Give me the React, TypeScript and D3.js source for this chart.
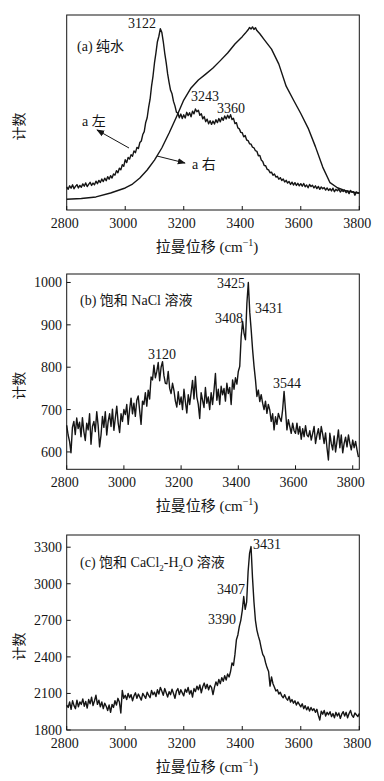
import React from "react";
import * as d3 from "d3";

// ---------- data ----------
const X_TICKS = [2800, 3000, 3200, 3400, 3600, 3800];
const STEP = 5;

// (a) pure water, left (noisy), arbitrary units 0-100, from 2800 step 5
const aLeftStart = 2800;
const aLeft = [
  11.8, 10.6, 12.4, 11.2, 12.9, 10.9, 12.1, 13.0, 11.3, 12.6,
  11.7, 13.4, 12.2, 13.9, 12.0, 13.1, 14.2, 12.6, 13.8, 12.9,
  14.8, 13.5, 15.2, 14.1, 15.9, 14.6, 16.3, 15.0, 17.1, 15.8,
  17.6, 16.4, 18.5, 17.9, 20.2, 19.1, 21.4, 20.6, 23.2, 22.4,
  25.8, 24.3, 26.9, 26.1, 28.4, 27.6, 30.3, 29.4, 32.1, 31.5,
  34.6, 35.4, 38.7, 40.2, 44.9, 47.3, 52.6, 56.8, 63.5, 68.7,
  75.4, 80.6, 86.3, 89.1, 93.0, 91.2, 86.4, 80.5, 75.6, 69.8,
  65.3, 61.4, 59.6, 55.7, 53.4, 50.2, 49.6, 47.3, 49.2, 46.9,
  48.8, 47.2, 50.1, 48.4, 49.9, 47.8, 50.7, 49.3, 51.8, 50.4,
  51.2, 48.6, 49.4, 46.8, 47.9, 45.3, 46.6, 44.2, 45.8, 43.9,
  45.6, 44.1, 46.3, 44.8, 46.9, 45.2, 47.4, 46.0, 48.2, 46.7,
  48.6, 47.1, 48.9, 46.4, 47.0, 44.3, 44.8, 42.1, 41.6, 39.8,
  39.6, 37.5, 38.2, 35.9, 35.6, 34.0, 33.8, 32.2, 31.9, 30.4,
  30.1, 27.8, 28.0, 25.6, 24.9, 22.8, 22.7, 20.9, 20.6, 19.1,
  19.4, 17.8, 18.5, 16.9, 17.3, 15.8, 16.6, 15.1, 15.9, 14.4,
  15.2, 13.8, 14.6, 13.1, 14.3, 12.8, 14.0, 12.6, 13.7, 12.4,
  13.5, 12.2, 13.6, 11.9, 12.8, 11.4, 13.1, 12.0, 12.7, 11.3,
  12.4, 11.0, 12.1, 10.6, 11.8, 10.9, 11.5, 10.2, 11.3, 10.0,
  10.9, 9.8, 11.2, 9.4, 10.6, 9.9, 10.8, 9.2, 10.1, 9.5,
  10.2, 8.9, 9.7, 8.4, 10.0, 9.1, 9.4, 7.6, 9.3, 8.7,
  8.9,
];

// (a) pure water, right (smooth)
const aRightX = [
  2800, 2850, 2900, 2950, 3000, 3025, 3050, 3075, 3100, 3125, 3150, 3175,
  3200, 3225, 3250, 3275, 3300, 3325, 3350, 3375, 3400, 3410, 3420, 3425,
  3430, 3435, 3440, 3445, 3450, 3460, 3475, 3500, 3525, 3550, 3575, 3600,
  3625, 3650, 3675, 3700, 3725, 3750, 3775, 3800,
];
const aRightY = [
  5.5, 5.9, 6.7, 8.7, 11.3, 13.3, 16.4, 20.5, 25.6, 31.8, 39.5, 47.7,
  56.4, 62.6, 66.7, 69.7, 72.8, 76.6, 80.5, 85.1, 88.9, 90.6, 92.4, 93.6,
  92.8, 93.9, 92.6, 93.5, 92.0, 90.4, 87.4, 82.5, 74.8, 63.5, 56.4, 49.5,
  42.0, 32.5, 22.0, 14.0, 11.4, 10.0, 9.3, 8.6,
];

// (b) saturated NaCl solution, counts from 2800 step 5
const bStart = 2800;
const bCounts = [
  663, 640, 625, 598, 658, 672, 641, 680, 655, 670,
  636, 681, 648, 627, 668, 652, 690, 618, 660, 672,
  648, 695, 662, 612, 640, 684, 658, 695, 640, 672,
  690, 660, 701, 651, 680, 708, 668, 646, 690, 672,
  700, 688, 712, 665, 700, 727, 690, 715, 684, 722,
  732, 698, 665, 720, 712, 740, 708, 746, 725, 777,
  770, 805, 775, 790, 811, 768, 800, 813, 780, 762,
  761, 790, 750, 738, 762, 745, 720, 706, 742, 712,
  730, 700, 748, 718, 692, 735, 712, 740, 769, 725,
  778, 730, 712, 679, 740, 722, 705, 752, 715, 730,
  700, 740, 712, 745, 785, 722, 748, 712, 755, 735,
  750, 720, 762, 738, 752, 712, 770, 748, 775, 760,
  790, 802, 872, 908, 880, 865, 951, 1000, 930, 888,
  841, 802, 770, 731, 746, 719, 735, 715, 700, 720,
  691, 712, 699, 672, 690, 652, 683, 665, 691, 680,
  672, 700, 743, 699, 652, 676, 660, 644, 668, 650,
  644, 668, 642, 660, 630, 655, 636, 662, 640, 636,
  650, 628, 644, 660, 620, 640, 655, 630, 660, 642,
  620, 645, 610, 581, 644, 620, 605, 638, 600, 625,
  652, 610, 640, 598, 620, 635, 612, 640, 620, 605,
  628, 610, 625, 605, 588,
];
const bYTicks = [600, 700, 800, 900, 1000];

// (c) saturated CaCl2-H2O solution, counts from 2800 step 5
const cStart = 2800;
const cCounts = [
  2005, 1985, 2030, 1970, 2040, 2000, 1975, 2045, 1990, 2030,
  2010, 2055, 1995, 2035, 1980, 2050, 2015, 2070, 2000, 2040,
  2085, 2010, 2045, 1990, 2030, 1975, 2020, 1995, 1960, 2005,
  1945, 2010, 1985, 2040, 2005, 2060, 2030, 1940, 2125, 2060,
  2085, 2050, 2100, 2065, 2090, 2040, 2080, 2105, 2060, 2095,
  2070, 2045, 2100, 2080, 2060, 2110, 2085, 2065, 2125, 2090,
  2110, 2075, 2130, 2095, 2150, 2120, 2085, 2140, 2105, 2070,
  2115, 2090, 2135, 2100, 2060, 2120, 2140, 2090, 2130, 2105,
  2080, 2135, 2110, 2150, 2095, 2125, 2070, 2140, 2115, 2160,
  2130, 2170, 2105, 2155, 2185, 2140, 2175, 2130, 2165, 2150,
  2090, 2150, 2195, 2165, 2215, 2180, 2230, 2200, 2245, 2210,
  2260, 2235, 2280, 2350, 2330, 2420, 2540, 2580, 2650, 2700,
  2780, 2895, 2790, 2850, 3100, 3250, 3305, 3050, 2850, 2700,
  2620, 2570, 2530, 2470, 2420, 2400, 2350, 2310, 2280, 2160,
  2235, 2180, 2150, 2120, 2130, 2095, 2110, 2080, 2065, 2090,
  2060, 2045, 2075, 2030, 2050, 2020, 2040, 2005, 2030, 2010,
  1990, 2015, 1975, 2000, 1965, 1990, 1955, 1985, 1960, 1975,
  1945, 1970, 1920, 1882, 1955, 1930, 1960, 1915, 1945, 1925,
  1950, 1910, 1935, 1900, 1945, 1915, 1940, 1895, 1930, 1950,
  1915, 1945, 1900, 1935, 1960, 1920, 1905, 1940, 1925, 1910,
  1935,
];
const cYTicks = [1800, 2100, 2400, 2700, 3000, 3300];

// ---------- layout ----------
const W = 384;
const H = 781;
const LEFT = 66.7;
const RIGHT = 359.3;
const FONT = "'Liberation Serif', 'Times New Roman', 'Noto Sans CJK SC', serif";
const INK = "#151515";

type Pt = [number, number];

const toPts = (start: number, vals: number[]): Pt[] =>
  vals.map((v, i) => [start + i * STEP, v] as Pt);

interface PanelProps {
  top: number;
  bottom: number;
  xDomain: [number, number];
  yDomain: [number, number];
  yTicks?: number[];
  series: Pt[][];
  children?: (x: d3.ScaleLinear<number, number>, y: d3.ScaleLinear<number, number>) => React.ReactNode;
}

function Panel({ top, bottom, xDomain, yDomain, yTicks, series, children }: PanelProps) {
  const x = d3.scaleLinear().domain(xDomain).range([LEFT, RIGHT]);
  const y = d3.scaleLinear().domain(yDomain).range([bottom, top]);
  const line = d3
    .line<Pt>()
    .x((d) => x(d[0]))
    .y((d) => y(d[1]));
  const midX = 207;
  const midY = (top + bottom) / 2 + 14;
  return (
    <g>
      {series.map((s, i) => (
        <path key={i} d={line(s) || ""} fill="none" stroke={INK} strokeWidth={1.4} strokeLinejoin="round" />
      ))}
      <rect x={LEFT} y={top} width={RIGHT - LEFT} height={bottom - top} fill="none" stroke={INK} strokeWidth={1} />
      {X_TICKS.map((t) => (
        <g key={t}>
          <line x1={x(t)} x2={x(t)} y1={bottom} y2={bottom - 4} stroke={INK} strokeWidth={1} />
          <text x={x(t) - 2} y={bottom + 18} textAnchor="middle" fontSize={14} fontFamily={FONT} fill={INK}>
            {t}
          </text>
        </g>
      ))}
      {(yTicks || []).map((t) => (
        <g key={t}>
          <line x1={LEFT} x2={LEFT + 4} y1={y(t)} y2={y(t)} stroke={INK} strokeWidth={1} />
          <text x={62} y={y(t) + 5} textAnchor="end" fontSize={14} fontFamily={FONT} fill={INK}>
            {t}
          </text>
        </g>
      ))}
      <text x={midX} y={bottom + 42} textAnchor="middle" fontSize={15} fontFamily={FONT} fill={INK}>
        拉曼位移 (cm
        <tspan fontSize={10} dy={-6}>−1</tspan>
        <tspan dy={6}>)</tspan>
      </text>
      <text
        transform={`translate(24, ${midY}) rotate(-90)`}
        textAnchor="middle"
        fontSize={14}
        fontFamily={FONT}
        fill={INK}
      >
        计数
      </text>
      {children ? children(x, y) : null}
    </g>
  );
}

const Label = ({ x, y, children }: { x: number; y: number; children: React.ReactNode }) => (
  <text x={x} y={y} fontSize={14} fontFamily={FONT} fill={INK}>
    {children}
  </text>
);

export default function App() {
  const aL = toPts(aLeftStart, aLeft);
  const aR: Pt[] = aRightX.map((v, i) => [v, aRightY[i]] as Pt);
  const b = toPts(bStart, bCounts);
  const c = toPts(cStart, cCounts);

  return (
    <svg
      width={W}
      height={H}
      viewBox={`0 0 ${W} ${H}`}
      style={{ position: "absolute", left: 0, top: 0, background: "#fff" }}
    >
      <defs>
        <marker id="arr" viewBox="0 0 10 10" refX={9} refY={5} markerWidth={8} markerHeight={8} orient="auto">
          <path d="M0,1 L10,5 L0,9 Z" fill={INK} />
        </marker>
      </defs>
      <rect x={0} y={0} width={W} height={H} fill="#fff" />

      <Panel top={15} bottom={210} xDomain={[2800, 3800]} yDomain={[0, 100]} series={[aR, aL]}>
        {() => (
          <g>
            <Label x={77} y={51}>(a) 纯水</Label>
            <Label x={128} y={28}>3122</Label>
            <Label x={191} y={101}>3243</Label>
            <Label x={217} y={113}>3360</Label>
            <Label x={82} y={126}>a 左</Label>
            <Label x={192} y={169}>a 右</Label>
            <line x1={129} y1={148} x2={97} y2={130} stroke={INK} strokeWidth={1} markerEnd="url(#arr)" />
            <line x1={157} y1={156} x2={185} y2={163} stroke={INK} strokeWidth={1} markerEnd="url(#arr)" />
          </g>
        )}
      </Panel>

      <Panel top={274} bottom={469.3} xDomain={[2800, 3823]} yDomain={[559, 1020]} yTicks={bYTicks} series={[b]}>
        {() => (
          <g>
            <Label x={80} y={305}>(b) 饱和 NaCl 溶液</Label>
            <Label x={217} y={288}>3425</Label>
            <Label x={215} y={323}>3408</Label>
            <Label x={255} y={313}>3431</Label>
            <Label x={148} y={359}>3120</Label>
            <Label x={273} y={388}>3544</Label>
          </g>
        )}
      </Panel>

      <Panel top={535} bottom={730} xDomain={[2800, 3800]} yDomain={[1800, 3400]} yTicks={cYTicks} series={[c]}>
        {() => (
          <g>
            <text x={80} y={567} fontSize={14} fontFamily={FONT} fill={INK}>
              (c) 饱和 CaCl
              <tspan fontSize={9} dy={4}>2</tspan>
              <tspan dy={-4}>-H</tspan>
              <tspan fontSize={9} dy={4}>2</tspan>
              <tspan dy={-4}>O 溶液</tspan>
            </text>
            <Label x={253} y={549}>3431</Label>
            <Label x={217} y={594}>3407</Label>
            <Label x={208} y={624}>3390</Label>
          </g>
        )}
      </Panel>
    </svg>
  );
}
